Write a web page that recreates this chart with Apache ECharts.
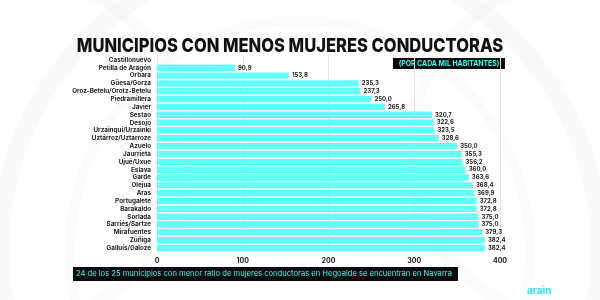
<!DOCTYPE html>
<html><head><meta charset="utf-8">
<script src="https://cdn.jsdelivr.net/npm/echarts@6/dist/echarts.min.js"></script>
<style>html,body{margin:0;padding:0;background:#fff}#c{width:600px;height:300px}</style>
</head><body><div id="c"></div>
<script>
const categories = ["Castillonuevo","Petilla de Aragón","Orbara","Güesa/Gorza","Oroz-Betelu/Orotz-Betelu","Piedramillera","Javier","Sestao","Desojo","Urzainqui/Urzainki","Uztárroz/Uztarroze","Azuelo","Jaurrieta","Ujué/Uxue","Eslava","Garde","Olejua","Aras","Portugalete","Barakaldo","Sorlada","Sarriés/Sartze","Mirafuentes","Zúñiga","Galluís/Galoze"];
const values = [0,90.9,153.8,235.3,237.3,250.0,265.8,320.7,322.6,323.5,328.6,350.0,355.3,356.2,360.0,363.6,368.4,369.9,372.8,372.8,375.0,375.0,379.3,382.4,382.4];
const xTicks = [0,100,200,300,400];
const title = "MUNICIPIOS CON MENOS MUJERES CONDUCTORAS";
const subtitle = "(POR CADA MIL HABITANTES)";
const note = "24 de los 25 municipios con menor ratio de mujeres conductoras en Hegoalde se encuentran en Navarra";
const brand = "arain";

const chart = echarts.init(document.getElementById('c'), null, {renderer:'canvas'});
const arc = (cx, cy, r, w, c) => ({type:'circle', silent:true, z:-10, shape:{cx, cy, r}, style:{fill:null, stroke:c, lineWidth:w}});
chart.setOption({
  backgroundColor:'#ffffff',
  animation:false,
  graphic:[
    arc(300, 250, 300, 18, 'rgba(0,0,0,0.018)'),
    arc(300, 250, 230, 10, 'rgba(0,0,0,0.015)'),
    arc(580, 150, 170, 12, 'rgba(0,0,0,0.015)'),
    arc(20, 150, 170, 12, 'rgba(0,0,0,0.015)'),
    {type:'text', x:290, y:46, originX:0, originY:0, scaleX:0.87,
      style:{text:title, font:'800 19px Inter', fill:'#111', align:'center', verticalAlign:'middle'}},
    {type:'group', left:393, top:58, children:[
      {type:'rect', shape:{x:0,y:0,width:112,height:11}, style:{fill:'#0b0b0b'}},
      {type:'text', x:56, y:5.8, scaleX:0.93, style:{text:subtitle, font:'bold 7.4px Inter', fill:'#43f5ee', align:'center', verticalAlign:'middle'}}
    ]},
    {type:'group', left:73, top:267, children:[
      {type:'rect', shape:{x:0,y:0,width:385,height:14}, style:{fill:'#0b0b0b'}},
      {type:'text', x:3, y:7, style:{text:note, font:'7.6px Inter', fill:'#43f5ee', verticalAlign:'middle'}}
    ]},
    {type:'text', left:527, top:286, style:{text:brand, font:'bold 10px Inter', fill:'#2de8f0'}}
  ],
  grid:{left:157, right:100, top:56, bottom:48, containLabel:false},
  xAxis:{type:'value', min:0, max:400, interval:100,
    axisLabel:{color:'#222', fontSize:7, fontWeight:'bold', fontFamily:'Inter', margin:5,
      formatter:v => xTicks.includes(v) ? String(v) : ''},
    splitLine:{lineStyle:{color:'#e6e6e6', width:1}},
    axisLine:{show:false}, axisTick:{show:false}},
  yAxis:{type:'category', data:categories, inverse:true,
    axisLabel:{interval:0, color:'#222', fontSize:6.3, fontWeight:'bold', fontFamily:'Inter', margin:6},
    axisLine:{show:true, lineStyle:{color:'#e6e6e6'}}, axisTick:{show:false}},
  series:[{type:'bar', data:values, barCategoryGap:'18%',
    itemStyle:{color:'#63fffb'},
    label:{show:true, position:'right', distance:3, fontSize:6, fontWeight:'bold', fontFamily:'Inter', color:'#222',
      formatter:p => p.value ? p.value.toFixed(1).replace('.', ',') : ''}}]
});
</script></body></html>
